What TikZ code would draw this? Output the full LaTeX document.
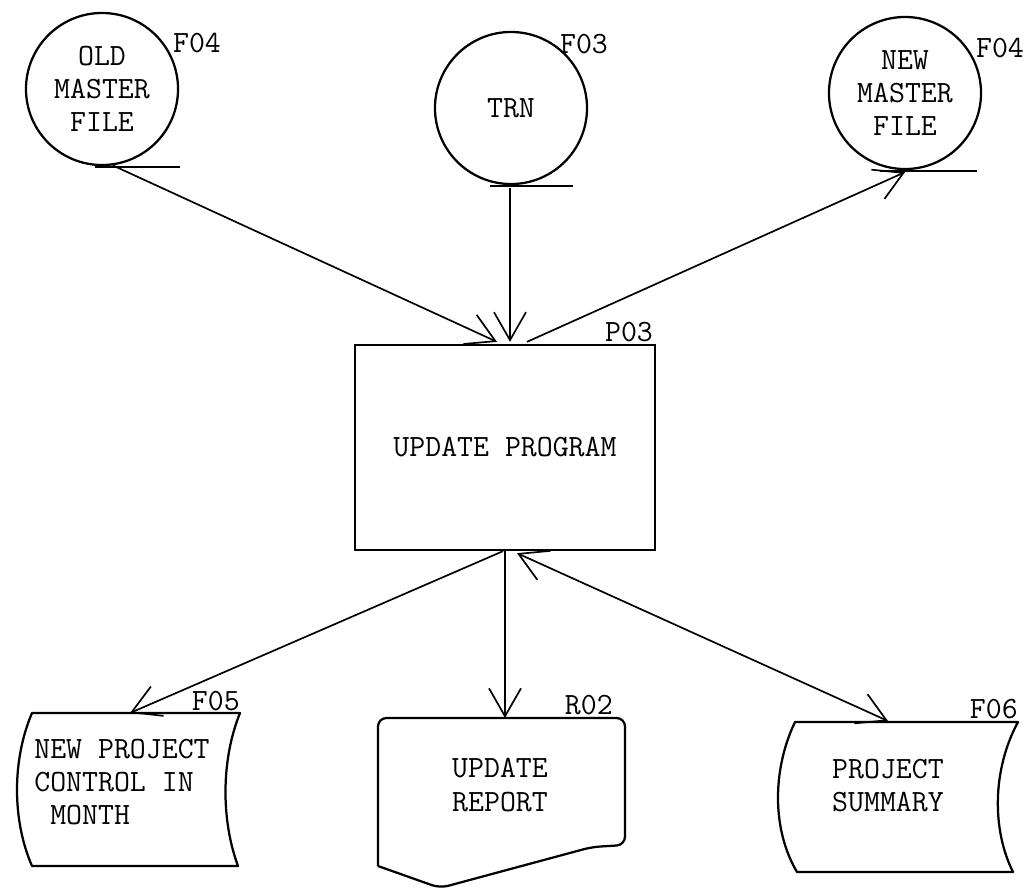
\documentclass[tikz,border=0pt]{standalone}
\usepackage{tikz}
\usetikzlibrary{arrows.meta, positioning, calc}

\begin{document}
\begin{tikzpicture}[
    x=0.025cm, y=-0.025cm,
    font=\ttfamily\fontsize{22}{23.5}\selectfont,
    filenode/.style={circle, draw, line width=1.6pt, minimum size=3.8cm,
                inner sep=0pt, align=center},
    prognode/.style={rectangle, draw, line width=1.6pt,
                minimum width=7.5cm, minimum height=5.125cm, align=center},
    docline/.style={line width=1.6pt, line join=round},
    txt/.style={inner sep=0pt, align=center},
    tag/.style={inner sep=0pt},
    arr/.style={-{Straight Barb[length=7mm, width=8mm]}, line width=1.2pt},
    arrboth/.style={{Straight Barb[length=7mm, width=8mm]}-{Straight Barb[length=7mm, width=8mm]}, line width=1.2pt},
]
    \useasboundingbox (0,0) rectangle (1025,888);

    % files on top
    \node[filenode] (old) at (102,89) {OLD\\MASTER\\FILE};
    \node[filenode] (trn) at (511,108) {TRN};
    \node[filenode] (new) at (905,93) {NEW\\MASTER\\FILE};

    \draw[line width=1pt] ($(old.south)+(-7,1)$) -- ++(85,0);
    \draw[line width=1pt] ($(trn.south)+(-21,1)$) -- ++(83,0);
    \draw[line width=1pt] ($(new.south)+(-25,1)$) -- ++(97,0);

    \node[tag] (oldtag) at (197,43) {F04};
    \node[tag] (trntag) at (584,44) {F03};
    \node[tag] (newtag) at (1000,48) {F04};

    % program
    \node[prognode] (prog) at (505,447.5) {UPDATE PROGRAM};
    \node[tag, anchor=south east] (progtag) at ($(prog.north east)+(-3,-2)$) {P03};

    % outputs
    \draw[docline] (32,713) -- (240,713) .. controls (221,760) and (221,820) .. (238,866)
        -- (32,866) .. controls (12,820) and (12,760) .. (32,713) -- cycle;
    \coordinate (ctrltop) at (130,713);
    \node[inner sep=0pt, align=left] (ctrl) at (122,782) {NEW PROJECT\\CONTROL IN\\\ MONTH};
    \node[tag, anchor=south east] (ctrltag) at (240,711) {F05};

    \draw[docline, rounded corners=6pt] (378,866) -- (378,718) -- (625,718) -- (625,845)
        -- (592,847) -- (440,888) -- (378,866);
    \coordinate (reptop) at (505,718);
    \node[txt] (rep) at (500,785) {UPDATE\\REPORT};
    \node[tag, anchor=south east] (reptag) at (613,715) {R02};

    \draw[docline] (795,722) -- (1018,722) .. controls (992,770) and (992,830) .. (1013,872)
        -- (797,872) .. controls (772,830) and (772,770) .. (795,722) -- cycle;
    \coordinate (summtop) at (888,721);
    \node[txt] (summ) at (888,786) {PROJECT\\SUMMARY};
    \node[tag, anchor=south east] (summtag) at (1018,719) {F06};

    % flows
    \draw[arr] (old.-82) -- ($(prog.north)+(-8,-2)$);
    \draw[arr] ($(trn.south)+(-1,3)$) -- ($(prog.north)+(5,-2)$);
    \draw[arr] ($(prog.north)+(22,-2)$) -- ($(new.south)+(0,2)$);

    \draw[arr] ($(prog.south)+(-2,0)$) -- (ctrltop);
    \draw[arr] (prog.south) -- (reptop);
    \draw[arrboth] ($(prog.south)+(12,2)$) -- (summtop);
\end{tikzpicture}
\end{document}
